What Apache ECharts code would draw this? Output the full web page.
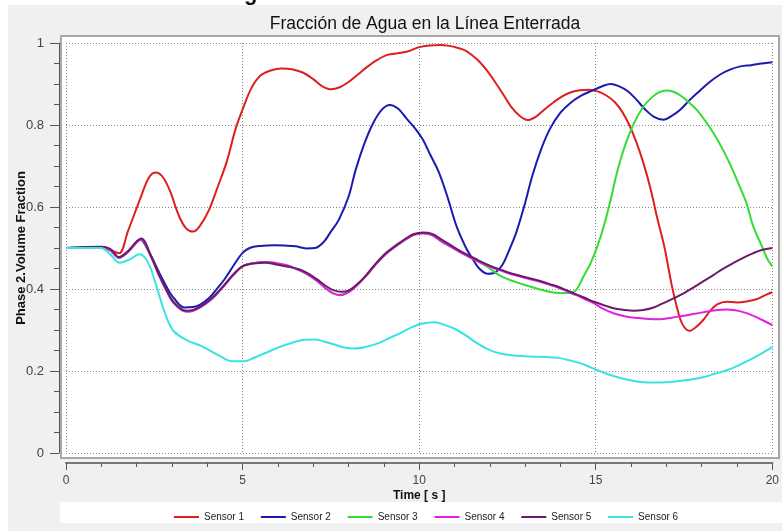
<!DOCTYPE html>
<html>
<head>
<meta charset="utf-8">
<script src="https://cdn.jsdelivr.net/npm/echarts@6/dist/echarts.min.js"></script>
<style>html,body{margin:0;padding:0;background:#fff}#c{width:782px;height:531px}</style>
</head>
<body>
<div id="c"></div>
<script>
var titleText = 'Fracción de Agua en la Línea Enterrada';
var xName = 'Time [ s ]';
var yName = 'Phase 2.Volume Fraction';
var seriesNames = ['Sensor 1','Sensor 2','Sensor 3','Sensor 4','Sensor 5','Sensor 6'];
var seriesColors = ['#dc1f1f','#1b1bb0','#33dd33','#e022e0','#6b1b6b','#38e3e3'];

var sensor1 = [[0,0.5],[1,0.5],[1.25,0.495],[1.5,0.487],[1.75,0.54],[2.1,0.62],[2.35,0.672],[2.55,0.684],[2.75,0.672],[2.95,0.638],[3.2,0.578],[3.4,0.548],[3.6,0.54],[3.8,0.555],[4.05,0.593],[4.3,0.65],[4.55,0.71],[4.8,0.79],[5.0,0.838],[5.25,0.89],[5.5,0.92],[5.8,0.933],[6.1,0.938],[6.4,0.936],[6.7,0.928],[7.0,0.912],[7.25,0.895],[7.5,0.887],[7.75,0.892],[8.0,0.905],[8.25,0.922],[8.5,0.94],[8.8,0.958],[9.1,0.971],[9.4,0.975],[9.7,0.98],[10.0,0.99],[10.3,0.994],[10.6,0.995],[10.85,0.993],[11.1,0.988],[11.3,0.982],[11.5,0.97],[11.7,0.955],[11.9,0.935],[12.15,0.905],[12.4,0.872],[12.6,0.845],[12.85,0.822],[13.07,0.812],[13.3,0.82],[13.55,0.838],[13.8,0.855],[14.05,0.87],[14.3,0.88],[14.55,0.885],[14.8,0.886],[15.05,0.882],[15.3,0.872],[15.55,0.855],[15.75,0.832],[15.95,0.8],[16.15,0.758],[16.35,0.707],[16.55,0.645],[16.75,0.57],[16.95,0.5],[17.15,0.41],[17.3,0.355],[17.45,0.315],[17.65,0.298],[17.85,0.308],[18.05,0.325],[18.25,0.348],[18.45,0.363],[18.7,0.369],[19.0,0.367],[19.3,0.37],[19.55,0.375],[19.8,0.385],[20,0.392]];

var sensor2 = [[0,0.5],[1,0.502],[1.25,0.495],[1.5,0.476],[1.75,0.49],[2.1,0.521],[2.35,0.49],[2.65,0.438],[2.85,0.405],[3.05,0.378],[3.35,0.355],[3.6,0.356],[3.8,0.362],[4.05,0.378],[4.25,0.398],[4.5,0.425],[4.75,0.458],[5.0,0.488],[5.2,0.5],[5.5,0.505],[5.9,0.507],[6.2,0.506],[6.5,0.504],[6.8,0.499],[7.05,0.5],[7.3,0.515],[7.5,0.54],[7.72,0.568],[8.0,0.625],[8.2,0.69],[8.45,0.755],[8.7,0.805],[8.95,0.838],[9.17,0.849],[9.4,0.84],[9.65,0.815],[9.9,0.79],[10.1,0.765],[10.3,0.73],[10.55,0.686],[10.8,0.625],[11.05,0.555],[11.3,0.505],[11.5,0.475],[11.7,0.45],[11.94,0.437],[12.15,0.44],[12.35,0.458],[12.55,0.495],[12.75,0.538],[13.0,0.61],[13.2,0.675],[13.45,0.74],[13.7,0.79],[14.0,0.83],[14.3,0.855],[14.6,0.872],[14.9,0.884],[15.2,0.895],[15.42,0.9],[15.65,0.895],[15.9,0.883],[16.15,0.862],[16.4,0.838],[16.65,0.82],[16.92,0.813],[17.15,0.822],[17.4,0.838],[17.65,0.86],[17.9,0.88],[18.2,0.903],[18.5,0.922],[18.8,0.935],[19.1,0.943],[19.4,0.946],[19.7,0.95],[20,0.953]];

var sensor3 = [[0,0.5],[1,0.502],[1.25,0.495],[1.5,0.476],[1.75,0.49],[2.13,0.521],[2.4,0.48],[2.65,0.43],[2.85,0.395],[3.05,0.366],[3.4,0.345],[3.6,0.347],[3.8,0.355],[4.05,0.37],[4.25,0.386],[4.5,0.41],[4.75,0.435],[5.0,0.455],[5.3,0.463],[5.65,0.466],[5.95,0.463],[6.25,0.458],[6.6,0.446],[6.85,0.435],[7.1,0.42],[7.35,0.402],[7.55,0.39],[7.75,0.386],[8.0,0.393],[8.25,0.41],[8.5,0.432],[8.75,0.458],[9.05,0.485],[9.35,0.505],[9.6,0.52],[9.85,0.532],[10.1,0.536],[10.35,0.532],[10.65,0.515],[11.0,0.498],[11.3,0.484],[11.6,0.47],[11.95,0.453],[12.3,0.432],[12.7,0.418],[13.1,0.407],[13.45,0.398],[13.75,0.392],[14.0,0.39],[14.25,0.39],[14.45,0.398],[14.65,0.43],[14.85,0.462],[15.05,0.505],[15.25,0.56],[15.42,0.617],[15.62,0.69],[15.85,0.755],[16.08,0.804],[16.35,0.845],[16.6,0.868],[16.8,0.88],[17.0,0.884],[17.2,0.881],[17.4,0.872],[17.6,0.858],[17.86,0.837],[18.1,0.81],[18.35,0.778],[18.6,0.74],[18.8,0.705],[19.05,0.655],[19.27,0.609],[19.45,0.555],[19.7,0.505],[19.85,0.475],[20,0.455]];

var sensor4 = [[0,0.5],[1,0.502],[1.25,0.495],[1.5,0.476],[1.75,0.49],[2.13,0.521],[2.4,0.48],[2.65,0.43],[2.85,0.395],[3.05,0.366],[3.4,0.345],[3.6,0.347],[3.8,0.355],[4.05,0.37],[4.25,0.386],[4.5,0.41],[4.75,0.435],[5.0,0.455],[5.3,0.463],[5.65,0.466],[5.95,0.463],[6.25,0.458],[6.6,0.446],[6.85,0.435],[7.1,0.42],[7.35,0.402],[7.55,0.39],[7.75,0.385],[8.0,0.392],[8.25,0.41],[8.5,0.432],[8.75,0.458],[9.05,0.485],[9.35,0.505],[9.6,0.52],[9.85,0.532],[10.1,0.536],[10.35,0.532],[10.65,0.515],[11.0,0.498],[11.3,0.483],[11.65,0.468],[12.0,0.455],[12.35,0.444],[12.7,0.434],[13.1,0.425],[13.45,0.417],[13.7,0.41],[13.95,0.403],[14.2,0.394],[14.45,0.385],[14.7,0.375],[14.95,0.365],[15.2,0.352],[15.5,0.341],[15.85,0.333],[16.2,0.329],[16.5,0.327],[16.82,0.326],[17.15,0.33],[17.5,0.335],[17.85,0.34],[18.15,0.345],[18.45,0.349],[18.7,0.35],[18.95,0.348],[19.2,0.343],[19.45,0.335],[19.7,0.325],[20,0.312]];

var sensor5 = [[0,0.5],[1,0.503],[1.25,0.498],[1.5,0.478],[1.75,0.492],[2.13,0.523],[2.4,0.482],[2.65,0.432],[2.85,0.397],[3.05,0.368],[3.4,0.347],[3.6,0.349],[3.8,0.357],[4.05,0.372],[4.25,0.388],[4.5,0.412],[4.75,0.437],[5.0,0.456],[5.3,0.462],[5.65,0.464],[5.95,0.46],[6.25,0.455],[6.6,0.448],[6.85,0.438],[7.1,0.424],[7.35,0.408],[7.55,0.398],[7.8,0.393],[8.0,0.396],[8.25,0.412],[8.5,0.434],[8.75,0.46],[9.05,0.487],[9.35,0.507],[9.6,0.522],[9.85,0.534],[10.1,0.538],[10.35,0.535],[10.65,0.52],[11.0,0.501],[11.3,0.486],[11.65,0.471],[12.0,0.457],[12.35,0.446],[12.7,0.436],[13.1,0.427],[13.45,0.419],[13.7,0.412],[13.95,0.405],[14.2,0.396],[14.45,0.387],[14.7,0.378],[14.95,0.369],[15.25,0.36],[15.5,0.353],[15.8,0.349],[16.08,0.347],[16.35,0.349],[16.64,0.355],[16.9,0.365],[17.2,0.377],[17.5,0.39],[17.77,0.404],[18.05,0.419],[18.33,0.434],[18.6,0.449],[18.89,0.463],[19.2,0.477],[19.45,0.487],[19.7,0.495],[20,0.5]];

var sensor6 = [[0,0.5],[1,0.5],[1.25,0.485],[1.52,0.464],[1.8,0.472],[2.08,0.485],[2.25,0.475],[2.4,0.45],[2.65,0.381],[2.85,0.33],[3.05,0.297],[3.4,0.276],[3.85,0.26],[4.35,0.237],[4.7,0.224],[5.05,0.224],[5.35,0.233],[5.65,0.244],[6.0,0.257],[6.4,0.269],[6.75,0.276],[7.06,0.277],[7.3,0.272],[7.55,0.266],[7.85,0.258],[8.2,0.255],[8.5,0.259],[8.85,0.268],[9.15,0.28],[9.45,0.292],[9.75,0.305],[10.0,0.314],[10.25,0.318],[10.45,0.319],[10.7,0.313],[11.0,0.303],[11.3,0.288],[11.6,0.27],[11.9,0.255],[12.15,0.246],[12.45,0.24],[12.8,0.237],[13.2,0.235],[13.6,0.234],[13.95,0.232],[14.25,0.226],[14.6,0.218],[14.9,0.207],[15.2,0.197],[15.5,0.188],[15.85,0.18],[16.2,0.174],[16.5,0.172],[16.85,0.172],[17.2,0.174],[17.6,0.178],[18.0,0.184],[18.4,0.194],[18.75,0.203],[19.1,0.216],[19.4,0.229],[19.7,0.243],[20,0.258]];

var sensorData = [sensor1, sensor2, sensor3, sensor4, sensor5, sensor6];

var chart = echarts.init(document.getElementById('c'), null, {renderer: 'canvas'});
var series = seriesNames.map(function (n, i) {
  return {
    name: n, type: 'line', data: sensorData[i], smooth: 0.35,
    showSymbol: false, symbol: 'none',
    lineStyle: {color: seriesColors[i], width: 2},
    itemStyle: {color: seriesColors[i]},
    emphasis: {disabled: true}, animation: false, z: 3 + i
  };
});

chart.setOption({
  animation: false,
  backgroundColor: '#ffffff',
  title: {
    text: titleText, left: 420, top: 10, textAlign: 'center',
    textStyle: {fontFamily: 'Liberation Sans', fontSize: 17.5, fontWeight: 'normal', color: '#111'}
  },
  graphic: [
    {type: 'rect', z: -20, shape: {x: 8, y: 5, width: 774, height: 526}, style: {fill: '#f0f0f0'}, silent: true},
    {type: 'rect', z: -19, shape: {x: 61, y: 36, width: 718, height: 422}, style: {fill: '#ffffff', stroke: '#a8a8a8', lineWidth: 2}, silent: true},
    {type: 'rect', z: -19, shape: {x: 60, y: 502, width: 722, height: 21}, style: {fill: '#ffffff'}, silent: true},
    {type: 'text', z: 10, left: 244, top: -17, style: {text: 'g', font: 'bold 22px "Liberation Sans"', fill: '#111'}, silent: true}
  ],
  legend: {
    data: seriesNames, left: 169, top: 507, icon: 'rect', itemWidth: 25, itemHeight: 2,
    itemGap: 16.8, textStyle: {fontFamily: 'Liberation Sans', fontSize: 10, color: '#222'}
  },
  grid: {left: 66, right: 6, top: 43, bottom: 78, containLabel: false},
  xAxis: {
    type: 'value', min: 0, max: 20, interval: 5, offset: 10,
    name: xName, nameLocation: 'middle', nameGap: 27, nameMoveOverlap: false,
    nameTextStyle: {fontFamily: 'Liberation Sans', fontSize: 12, fontWeight: 'bold', color: '#111'},
    axisLine: {show: true, onZero: false, lineStyle: {color: '#777', width: 2}},
    axisTick: {show: true, length: 7, lineStyle: {color: '#555'}},
    minorTick: {show: true, splitNumber: 5, length: 4, lineStyle: {color: '#555'}},
    axisLabel: {margin: 12, fontFamily: 'Liberation Sans', fontSize: 12, color: '#444'},
    splitLine: {show: true, lineStyle: {type: [1, 2], color: '#8a8a8a', width: 1}}
  },
  yAxis: {
    type: 'value', min: 0, max: 1, interval: 0.2, offset: 7,
    name: yName, nameLocation: 'middle', nameGap: 31, nameMoveOverlap: false,
    nameTextStyle: {fontFamily: 'Liberation Sans', fontSize: 13, fontWeight: 'bold', color: '#111'},
    axisLine: {show: true, onZero: false, lineStyle: {color: '#555', width: 1}},
    axisTick: {show: true, length: 9, lineStyle: {color: '#555'}},
    minorTick: {show: true, splitNumber: 4, length: 5, lineStyle: {color: '#555'}},
    axisLabel: {margin: 15, fontFamily: 'Liberation Sans', fontSize: 13, color: '#444'},
    splitLine: {show: true, lineStyle: {type: [1, 2], color: '#8a8a8a', width: 1}}
  },
  series: series
});
</script>
</body>
</html>
